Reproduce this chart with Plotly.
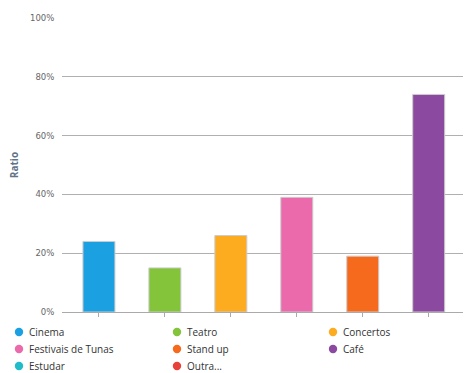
import plotly.graph_objects as go

# Share of respondents choosing each activity
categories = ["Cinema", "Teatro", "Concertos", "Festivais de Tunas", "Stand up", "Café"]
ratios = [0.24, 0.15, 0.26, 0.39, 0.19, 0.74]

# Legend entries (includes options nobody picked)
legend_names = ["Cinema", "Teatro", "Concertos", "Festivais de Tunas", "Stand up", "Café", "Estudar", "Outra..."]
legend_colors = ["#1ba1e2", "#84c43a", "#fdab1f", "#ea6aab", "#f66a1e", "#8b4a9f", "#20bcc8", "#e8403a"]

y_ticks = [0, 0.2, 0.4, 0.6, 0.8, 1.0]

W, H = 465, 373
M = dict(l=62, r=2, t=18, b=61)
plot_w = W - M["l"] - M["r"]
plot_h = H - M["t"] - M["b"]

fig = go.Figure()

color_of = dict(zip(legend_names, legend_colors))
for cat, val in zip(categories, ratios):
    fig.add_trace(go.Bar(
        x=[cat], y=[val], width=0.485, name=cat,
        marker=dict(color=color_of[cat], line=dict(color="#cccccc", width=1)),
        showlegend=False, hoverinfo="x+y",
    ))

# Three-column legend below the plot: round swatch followed by the label
col_px = [19, 177, 333]
row_px = [332, 349, 366]
shapes, annotations = [], []
for i, (name, col) in enumerate(zip(legend_names, legend_colors)):
    cx = (col_px[i % 3] - M["l"]) / plot_w
    cy = (H - M["b"] - row_px[i // 3]) / plot_h
    shapes.append(dict(
        type="circle", xref="paper", yref="paper",
        xsizemode="pixel", ysizemode="pixel", xanchor=cx, yanchor=cy,
        x0=-4.2, x1=4.2, y0=-4.2, y1=4.2,
        fillcolor=col, line=dict(width=0),
    ))
    annotations.append(dict(
        text=name, xref="paper", yref="paper", x=cx, y=cy,
        xanchor="left", yanchor="middle", xshift=8, showarrow=False,
        font=dict(family="Open Sans", size=10, color="#333333"),
    ))

fig.update_layout(
    width=W, height=H,
    margin=dict(**M, autoexpand=False),
    paper_bgcolor="white", plot_bgcolor="white",
    barmode="overlay",
    font=dict(family="Open Sans", color="#333333"),
    showlegend=False,
    shapes=shapes, annotations=annotations,
)

fig.update_xaxes(
    type="category", categoryorder="array", categoryarray=categories,
    range=[-0.56, 5.52],
    showticklabels=False, ticks="outside", ticklen=4, tickcolor="#aaaaaa",
    showline=True, linecolor="#aaaaaa", linewidth=1,
    showgrid=False, zeroline=False,
)

fig.update_yaxes(
    range=[0, 1.0], tickvals=y_ticks, tickformat=".0%",
    ticks="outside", ticklen=5, tickcolor="rgba(0,0,0,0)",
    showgrid=True, gridcolor="#b0b0b0", gridwidth=1,
    zeroline=False, showline=False,
    tickfont=dict(family="DejaVu Sans", size=8.5, color="#666666"),
    title=dict(text="<b>Ratio</b>", font=dict(family="Open Sans", size=10, color="#5f7389"), standoff=9),
)

fig.write_html("out.html")
